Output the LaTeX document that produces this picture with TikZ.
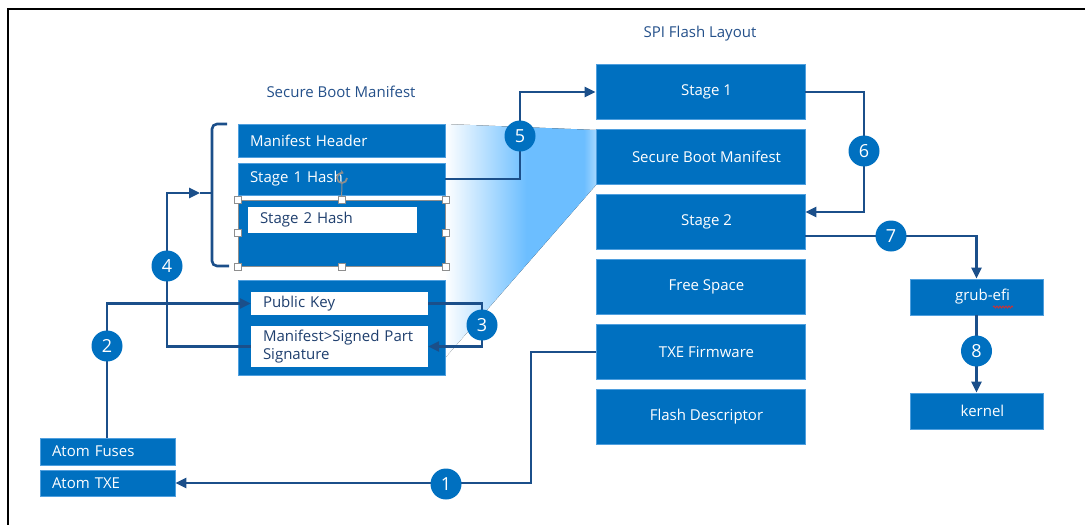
\documentclass[tikz,border=0pt]{standalone}
\usepackage{fontspec}
\setmainfont{Open Sans}
\usetikzlibrary{arrows.meta,decorations.pathmorphing}

\definecolor{boxblue}{HTML}{0070C0}
\definecolor{boxedge}{HTML}{4F9FDE}
\definecolor{wire}{HTML}{1B4F8A}
\definecolor{navytext}{HTML}{1F3F6E}
\definecolor{titletext}{HTML}{24508A}
\definecolor{projblue}{HTML}{6CBEFF}
\definecolor{projlight}{HTML}{A4D7FF}
\definecolor{handlegray}{HTML}{8E8E8E}
\definecolor{spellred}{HTML}{D03030}

% white on the left fading into light blue towards the flash layout
\pgfdeclarehorizontalshading{projshade}{100bp}{color(0bp)=(white); color(25bp)=(white); color(52bp)=(projblue); color(71bp)=(projblue); color(75bp)=(projlight); color(100bp)=(projlight)}

\newcommand{\boxfont}{\fontsize{15}{18}\selectfont}
\newcommand{\lpad}{\hspace*{12pt}}

\tikzset{
  spi/.style={fill=boxblue, draw=boxedge, line width=0.7pt, text=white,
    minimum width=209pt, minimum height=55pt, inner sep=0pt, font=\boxfont},
  sidebox/.style={fill=boxblue, draw=boxedge, line width=0.7pt, text=white,
    minimum width=133pt, minimum height=36pt, inner sep=0pt, font=\boxfont},
  mblk/.style={fill=boxblue, draw=boxedge, line width=0.7pt, text=white,
    text width=#1, align=left, inner xsep=12pt, inner ysep=0pt, font=\boxfont},
  wblk/.style={fill=white, text=navytext, text width=#1, align=left,
    inner xsep=12pt, inner ysep=0pt, font=\boxfont},
  title/.style={text=titletext, font=\boxfont},
  wire/.style={draw=wire, line width=2.6pt},
  arr/.style={wire, -{Triangle[length=11pt,width=10pt]}},
  numc/.style={circle, fill=boxblue, text=white, minimum size=31pt,
    inner sep=0pt, font=\fontsize{18}{18}\selectfont},
  handle/.style={draw=handlegray, fill=white, line width=0.9pt,
    minimum size=7pt, inner sep=0pt},
}

\begin{document}
\begin{tikzpicture}[x=1pt, y=-1pt]
\useasboundingbox (0,0) rectangle (1085,525);

% frame
\draw[line width=2pt, black] (8,525) -- (8,9) -- (1085,9);

% projection of the manifest onto the flash layout
\fill[shading=projshade] (445,124) -- (596,130) -- (596,185) -- (445,358) -- cycle;

% titles
\node[title] (tspi) at (700,34) {SPI Flash Layout};
\node[title] (tsbm) at (341,92) {Secure Boot Manifest};

% SPI flash layout
\node[spi] (s1)   at (700.5,92)  {\lpad Stage 1};
\node[spi] (sbm)  at (700.5,157) {\lpad Secure Boot Manifest};
\node[spi] (s2)   at (700.5,222) {\lpad Stage 2};
\node[spi] (free) at (700.5,287) {\lpad Free Space};
\node[spi] (txe)  at (700.5,352) {\lpad TXE Firmware};
\node[spi] (fd)   at (700.5,417) {\lpad Flash Descriptor};

% secure boot manifest
\node[mblk=183pt, minimum height=33pt] (mh)  at (341.5,140.5) {Manifest Header};
\node[mblk=183pt, minimum height=32pt] (s1h) at (341.5,179)   {Stage 1 Hash};
\node[mblk=183pt, minimum height=66pt, draw=handlegray, line width=1pt] (s2b) at (341.5,233) {};
\node[wblk=145pt, minimum height=26pt] (s2h) at (332.5,220) {Stage 2 Hash};

% signed part
\node[mblk=183pt, minimum height=95pt] (sig)  at (341.5,327.5) {};
\node[wblk=153pt, minimum height=23pt] (pk)   at (339.5,303.5) {Public Key};
\node[wblk=153pt, minimum height=41pt] (sps)  at (339.5,346.5) {\mbox{Manifest>Signed Part}\\Signature};

% selection handles on the stage 2 hash block
\coordinate (rot) at (342,178);
\draw[handlegray, line width=1pt] (s2b.north) -- (342,184);
\draw[handlegray, line width=1.8pt, -{Stealth[length=3.5pt,width=5pt]}]
  (347,178) arc[start angle=0, end angle=290, radius=5];
\foreach \a in {north west,north,north east,west,east,south west,south,south east}
  \node[handle] at (s2b.\a) {};

% brace around the hashed block
\coordinate (bracetip) at (200,193);
\draw[wire, rounded corners=5pt] (227,124) -| (212,193) |- (229,266);
\draw[wire] (212,193) -- (bracetip);

% fuses
\node[mblk=111pt, minimum height=27pt] (fuse) at (107.5,451.5) {Atom Fuses};
\node[mblk=111pt, minimum height=26pt] (atxe) at (107.5,483)   {Atom TXE};

% boot chain targets
\node[sidebox] (grub) at (976.5,297) {\lpad grub-efi};
\node[sidebox] (kern) at (976.5,411) {\lpad kernel};
\draw[spellred, line width=0.9pt, decorate,
  decoration={snake, amplitude=1pt, segment length=3pt}]
  ([shift={(16.5,10)}]grub.center) -- ([shift={(36.5,10)}]grub.center);

% 1: TXE firmware loaded by Atom TXE
\draw[arr] (txe.west) -- (531,352) |- (atxe.east);
\node[numc] (n1) at (446,484) {1};

% 2: fuses hold the public key hash
\draw[arr] (fuse.north -| 107,0) |- (pk.west);
\node[numc] (n2) at (107,346) {2};

% 3: key verifies the signature
\draw[arr] (pk.east) -- (482,303.5) |- (sps.east);
\node[numc] (n3) at (482,325) {3};

% 4: signature covers the hashed block
\draw[arr] (sps.west) -- (167,346.5) |- (bracetip);
\node[numc] (n4) at (167,266) {4};

% 5: stage 1 hash checks stage 1
\draw[arr] (s1h.east) -- (520,179) |- (s1.west);
\node[numc] (n5) at (520,136) {5};

% 6: stage 1 to stage 2
\draw[arr] (s1.east) -- (864,92) |- ([yshift=10pt]s2.east);
\node[numc] (n6) at (864,151) {6};

% 7: stage 2 to grub-efi
\draw[arr] ([yshift=-14pt]s2.east) -| (grub.north);
\node[numc] (n7) at (891,236) {7};

% 8: grub-efi to kernel
\draw[arr] (grub.south) -- (kern.north);
\node[numc] (n8) at (976.5,351) {8};
\end{tikzpicture}
\end{document}
